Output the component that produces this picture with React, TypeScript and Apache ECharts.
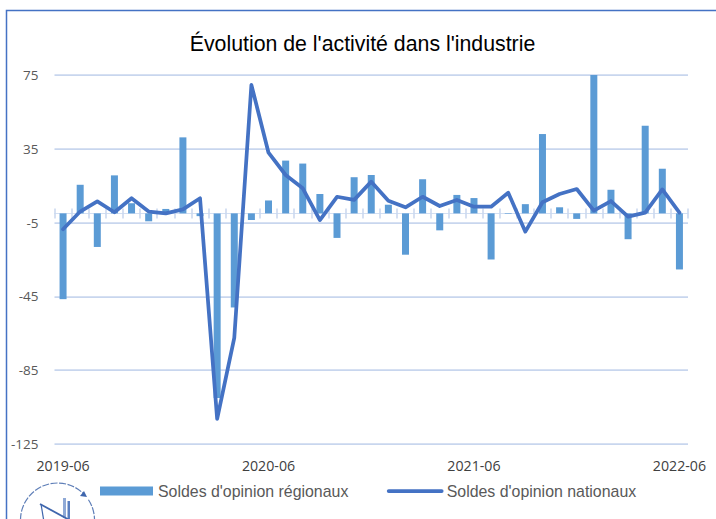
import React, { useEffect, useRef } from "react";
import * as echarts from "echarts";

const TITLE = "Évolution de l'activité dans l'industrie";
const BAR_NAME = "Soldes d'opinion régionaux";
const LINE_NAME = "Soldes d'opinion nationaux";

const months = [
  "2019-06","2019-07","2019-08","2019-09","2019-10","2019-11","2019-12",
  "2020-01","2020-02","2020-03","2020-04","2020-05","2020-06","2020-07","2020-08","2020-09","2020-10","2020-11","2020-12",
  "2021-01","2021-02","2021-03","2021-04","2021-05","2021-06","2021-07","2021-08","2021-09","2021-10","2021-11","2021-12",
  "2022-01","2022-02","2022-03","2022-04","2022-05","2022-06",
];
const regional = [
  -46.5, 15.5, -18.2, 20.6, 5.5, -4.3, 2.4, 41.2, -1.5, -100, -51, -3.6, 7,
  28.6, 27, 10.5, -13.3, 19.6, 20.8, 4.7, -22.4, 18.5, -9.2, 10, 8.3, -25,
  -0.3, 5, 43, 3.3, -3, 75, 12.8, -14, 47.5, 24.2, -30.4,
];
const national = [
  -8.6, 1, 6.5, 0.6, 8.2, 1, 0, 2.2, 8.2, -111.4, -67.5, 69.6, 32.9,
  20.8, 13.6, -3.6, 9, 7.3, 17.2, 6.9, 3.3, 9, 4, 7.3, 3.6, 3.6,
  11.2, -9.9, 6, 10.5, 13.2, 1.5, 6.7, -1.8, 0.4, 13, 0.4,
];

const GRID = "#c8d6ee";
const AXIS_FONT = "'Open Sans', sans-serif";
const TEXT_FONT = "'Liberation Sans', Arial, sans-serif";

export default function App() {
  const ref = useRef<HTMLDivElement>(null);
  useEffect(() => {
    const chart = echarts.init(ref.current!, undefined, { renderer: "svg" });
    const tickAxis = (inside: boolean, zeroIndex: number) => ({
      type: "category",
      data: months,
      position: "bottom",
      axisLine: { show: true, onZero: true, onZeroAxisIndex: zeroIndex, lineStyle: { color: "#d3dff2", width: 1 } },
      axisTick: { show: true, inside, length: 5, interval: 0, lineStyle: { color: GRID, width: 1.5 } },
      axisLabel: { show: false },
      splitLine: { show: false },
    });
    chart.setOption({
      animation: false,
      backgroundColor: "#ffffff",
      title: {
        text: TITLE,
        left: 357.5,
        top: 28,
        textAlign: "center",
        textStyle: { fontFamily: TEXT_FONT, fontSize: 21.3, fontWeight: "normal", color: "#000000" },
      },
      grid: { left: 54.5, right: 28, top: 75, bottom: 75, containLabel: false },
      legend: {
        left: 95,
        top: 478,
        itemWidth: 53,
        itemHeight: 9,
        itemGap: 38.5,
        textStyle: { fontFamily: TEXT_FONT, fontSize: 15.9, color: "#595959" },
        data: [
          { name: BAR_NAME, icon: "rect" },
          {
            name: LINE_NAME,
            itemStyle: { opacity: 0 },
            lineStyle: { color: "#4472c4", width: 3.75, cap: "round" },
          },
        ],
      },
      xAxis: [
        {
          type: "category",
          data: months,
          position: "bottom",
          axisLine: { show: false, onZero: false },
          axisTick: { show: false },
          axisLabel: {
            interval: 11,
            margin: 14,
            fontFamily: AXIS_FONT,
            fontSize: 14.2,
            color: "#404040",
          },
        },
        tickAxis(false, 0),
        tickAxis(true, 1),
      ],
      yAxis: [
        {
          type: "value",
          min: -125,
          max: 75,
          interval: 40,
          axisLine: { show: false },
          axisTick: { show: false },
          axisLabel: { margin: 16, fontFamily: AXIS_FONT, fontSize: 13.5, color: "#595959" },
          splitLine: { show: true, lineStyle: { color: GRID, width: 1.75 } },
        },
        {
          type: "value",
          min: -125,
          max: 75,
          interval: 40,
          position: "right",
          axisLine: { show: false },
          axisTick: { show: false },
          axisLabel: { show: false },
          splitLine: { show: false },
        },
      ],
      series: [
        {
          name: BAR_NAME,
          type: "bar",
          data: regional,
          barWidth: 7,
          itemStyle: { color: "#5b9bd5" },
        },
        {
          name: LINE_NAME,
          type: "line",
          data: national,
          symbol: "none",
          smooth: false,
          lineStyle: { color: "#4472c4", width: 3.75, cap: "round", join: "round" },
          itemStyle: { color: "#4472c4" },
          z: 5,
        },
      ],
      graphic: [
        {
          type: "rect",
          silent: true,
          z: -10,
          shape: { x: 6.5, y: 10.5, width: 800, height: 600 },
          style: { fill: "transparent", stroke: "#4472c4", lineWidth: 1.5 },
        },
        {
          type: "arc",
          silent: true,
          shape: { cx: 57.5, cy: 520, r: 37, startAngle: -Math.PI, endAngle: -0.82, clockwise: true },
          style: { fill: "transparent", stroke: "#5f7fb8", lineWidth: 1.2, lineDash: [7, 1.5] },
        },
        {
          type: "arc",
          silent: true,
          shape: { cx: 57.5, cy: 520, r: 37, startAngle: -0.58, endAngle: 0, clockwise: true },
          style: { fill: "transparent", stroke: "#5f7fb8", lineWidth: 1.2, lineDash: [7, 1.5] },
        },
        {
          type: "polygon",
          silent: true,
          shape: { points: [[87, 497], [80, 496], [84, 491]] },
          style: { fill: "#3f66ad" },
        },
        {
          type: "polygon",
          silent: true,
          shape: { points: [[63, 518], [63, 498], [66, 498], [66, 518]] },
          style: { fill: "#8fa9d6" },
        },
        {
          type: "polygon",
          silent: true,
          shape: { points: [[67.5, 520], [67.5, 501], [70, 501], [70, 520]] },
          style: { fill: "#5b7fc0" },
        },
        {
          type: "line",
          silent: true,
          shape: { x1: 40, y1: 504, x2: 73, y2: 522 },
          style: { stroke: "#3f66ad", lineWidth: 1.8 },
        },
        {
          type: "line",
          silent: true,
          shape: { x1: 41, y1: 504, x2: 44, y2: 522 },
          style: { stroke: "#3f66ad", lineWidth: 1.2 },
        },
      ],
    });
    return () => chart.dispose();
  }, []);
  return (
    <div
      ref={ref}
      style={{ position: "fixed", left: 0, top: 0, width: 716, height: 519 }}
    />
  );
}
